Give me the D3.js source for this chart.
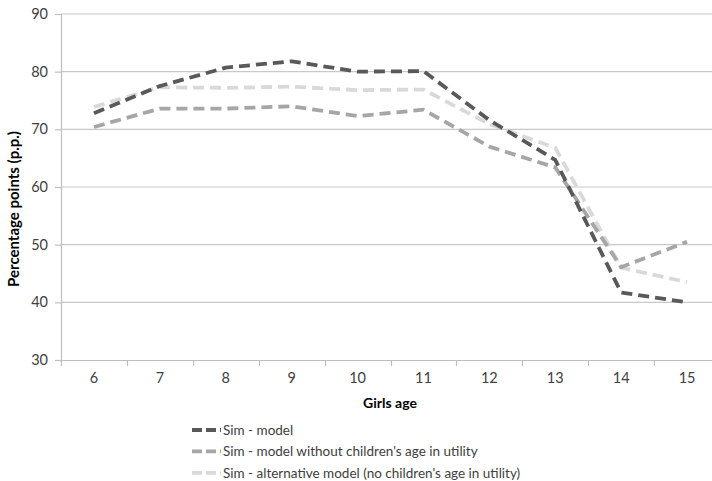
<!DOCTYPE html>
<html><head><meta charset="utf-8">
<script src="https://cdn.jsdelivr.net/npm/d3@7"></script>
<style>body{margin:0;background:#fff}svg{display:block}</style>
</head><body>
<svg id="c" width="712" height="481"></svg>
<script>
const ages = ["6","7","8","9","10","11","12","13","14","15"];
const simModel = [72.8, 77.5, 80.7, 81.8, 80.0, 80.1, 71.6, 64.7, 41.7, 40.0];
const simWithout = [70.4, 73.6, 73.6, 74.0, 72.3, 73.4, 67.0, 63.4, 46.1, 50.5];
const simAlt = [73.9, 77.3, 77.2, 77.4, 76.8, 76.9, 70.9, 66.8, 46.0, 43.5];
const yTicks = [30, 40, 50, 60, 70, 80, 90];
const seriesNames = ["Sim - model", "Sim - model without children's age in utility", "Sim - alternative model (no children's age in utility)"];
const seriesColors = ["#595959", "#a6a6a6", "#d9d9d9"];
const series = [simModel, simWithout, simAlt];

const svg = d3.select("#c");
const font = "Lato, 'Open Sans', sans-serif";
const x = d3.scaleBand().domain(ages).range([61, 720]);
const y = d3.scaleLinear().domain([30, 90]).range([360, 14]);

// gridlines
svg.append("g").selectAll("line").data(yTicks.filter(d => d > 30)).join("line")
  .attr("x1", 61).attr("x2", 720).attr("y1", d => y(d)).attr("y2", d => y(d))
  .attr("stroke", "#c8c8c8").attr("stroke-width", 1.2);

// y axis
const ya = svg.append("g").attr("transform", "translate(61,0)")
  .call(d3.axisLeft(y).tickValues(yTicks).tickSize(6).tickPadding(7));
ya.select(".domain").attr("stroke", "#bfbfbf").attr("stroke-width", 1.2);
ya.selectAll(".tick line").attr("stroke", "#bfbfbf").attr("stroke-width", 1.2);
ya.selectAll("text").attr("font-family", font).attr("font-size", 14.5).attr("fill", "#404040");

// x axis
const xa = svg.append("g").attr("transform", "translate(0,360)")
  .call(d3.axisBottom(x).tickSize(0).tickPadding(13));
xa.select(".domain").attr("stroke", "#bfbfbf").attr("stroke-width", 1.2);
xa.selectAll("text").attr("font-family", font).attr("font-size", 14.5).attr("fill", "#404040");
// tick marks at band boundaries
svg.append("g").selectAll("line").data(ages).join("line")
  .attr("x1", d => Math.round(x(d)) + 0.5).attr("x2", d => Math.round(x(d)) + 0.5)
  .attr("y1", 360).attr("y2", 366).attr("stroke", "#bfbfbf").attr("stroke-width", 1.2);

// lines
const line = d3.line().x((d, i) => x(ages[i]) + x.bandwidth() / 2).y(d => y(d));
[2, 1, 0].forEach(k => {
  svg.append("path").datum(series[k]).attr("d", line)
    .attr("fill", "none").attr("stroke", seriesColors[k]).attr("stroke-width", 3.8)
    .attr("stroke-dasharray", "11,6").attr("stroke-linejoin", "round");
});

// axis titles
svg.append("text").attr("transform", "translate(19,209) rotate(-90)")
  .attr("text-anchor", "middle").attr("font-family", font).attr("font-weight", "bold")
  .attr("font-size", 15).attr("fill", "#000").text("Percentage points (p.p.)");
svg.append("text").attr("x", 390).attr("y", 408).attr("text-anchor", "middle")
  .attr("font-family", font).attr("font-weight", "bold").attr("font-size", 14)
  .attr("fill", "#000").text("Girls age");

// legend
const lg = svg.append("g");
seriesNames.forEach((n, i) => {
  const yy = 430 + i * 21.4;
  lg.append("line").attr("x1", 192).attr("x2", 221).attr("y1", yy).attr("y2", yy)
    .attr("stroke", seriesColors[i]).attr("stroke-width", 3.8).attr("stroke-dasharray", "10,4");
  lg.append("text").attr("x", 223).attr("y", yy + 5).attr("font-family", font)
    .attr("font-size", 13.5).attr("fill", "#404040").text(n);
});
</script>
</body></html>
